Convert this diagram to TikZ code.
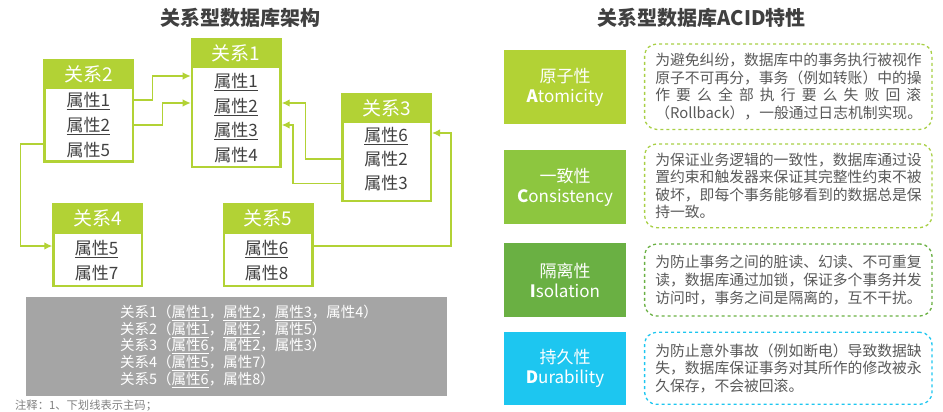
\documentclass[tikz,border=0pt]{standalone}
\usepackage{fontspec}
\setmainfont{Noto Sans CJK SC}
\usepackage{xcolor}
\usetikzlibrary{arrows.meta,positioning,calc}
\definecolor{relgreen}{HTML}{B2D235}
\definecolor{consgreen}{HTML}{8DC63F}
\definecolor{isolgreen}{HTML}{6AB043}
\definecolor{durablue}{HTML}{1DC6F0}
\definecolor{dashgreen}{HTML}{A8CF45}
\definecolor{tblgray}{HTML}{A5A5A5}
\definecolor{txtgray}{HTML}{595959}
\definecolor{darktxt}{HTML}{404040}
\tikzset{
  relbox/.style={draw=relgreen,line width=2.5pt,fill=white,minimum width=88.5pt,inner sep=0pt},
  relhead/.style={fill=relgreen,text=white,minimum width=91pt,minimum height=30pt,inner sep=0pt,anchor=north,font=\fontsize{19}{19}\selectfont},
  attr/.style={text=darktxt,inner sep=0pt,text height=15pt,text depth=2pt,font=\fontsize{17}{17}\selectfont},
  link/.style={draw=relgreen,line width=1.3pt,-{Latex[length=8pt,width=7.5pt]}},
  acidbox/.style={text=white,minimum width=122pt,minimum height=74pt,inner sep=0pt,align=center,font=\fontsize{17}{20}\selectfont},
  descbox/.style={draw,dashed,line width=1.3pt,rounded corners=12pt,text width=266pt,inner xsep=10.7pt,align=left,text=txtgray,font=\fontsize{14.8}{17.6}\selectfont},
  ttl/.style={text=darktxt,font=\fontsize{20}{20}\selectfont\bfseries}
}
\begin{document}
\begin{tikzpicture}[x=1pt,y=-1pt]
  \useasboundingbox (0,0) rectangle (943,412);
  % left: relations
  \node[ttl] (archtitle) at (240,18) {关系型数据库架构};
  \node[relbox,minimum height=127.5pt] (r1) at (236.2,103) {};
  \node[relhead] (r1h) at (r1.north) {关系1};
  \node[attr] (r1a1) at (236,81) {\underline{属性1}};
  \node[attr] (r1a2) at (236,106) {\underline{属性2}};
  \node[attr] (r1a3) at (236,130) {\underline{属性3}};
  \node[attr] (r1a4) at (236,155) {属性4};
  \node[relbox,minimum height=101.5pt] (r2) at (88.5,110.7) {};
  \node[relhead] (r2h) at (r2.north) {关系2};
  \node[attr] (r2a1) at (88.3,100) {\underline{属性1}};
  \node[attr] (r2a2) at (88.3,125) {\underline{属性2}};
  \node[attr] (r2a3) at (88.3,150) {属性5};
  \node[relbox,minimum height=107pt] (r3) at (386.5,147.5) {};
  \node[relhead] (r3h) at (r3.north) {关系3};
  \node[attr] (r3a1) at (386,135) {\underline{属性6}};
  \node[attr] (r3a2) at (386,159) {属性2};
  \node[attr] (r3a3) at (386,183.3) {属性3};
  \node[relbox,minimum height=81.5pt] (r4) at (97.8,245.3) {};
  \node[relhead] (r4h) at (r4.north) {关系4};
  \node[attr] (r4a1) at (96.7,248) {\underline{属性5}};
  \node[attr] (r4a2) at (96.7,273) {属性7};
  \node[relbox,minimum height=81.5pt] (r5) at (268,245.3) {};
  \node[relhead] (r5h) at (r5.north) {关系5};
  \node[attr] (r5a1) at (266.7,248) {\underline{属性6}};
  \node[attr] (r5a2) at (266.7,273) {属性8};
  \draw[link] (r2a1 -| r2.east) -- ++(18.4,0) |- ([yshift=5pt]r1a1 -| r1.west);
  \draw[link] (r2a2 -| r2.east) -- ++(28.4,0) |- ([yshift=3pt]r1a2 -| r1.west);
  \draw[link] (r3a2 -| r3.west) -- ++(-35.7,0) |- ([yshift=3pt]r1a2 -| r1.east);
  \draw[link] (r3a3 -| r3.west) -- ++(-48,0) |- ([yshift=5pt]r1a3 -| r1.east);
  \draw[link] ([yshift=6pt]r2a3 -| r2.west) -- ++(-22.7,0) |- ([yshift=2pt]r4a1 -| r4.west);
  \draw[link] ([yshift=2pt]r5a1 -| r5.east) -- ++(137.4,0) |- ([yshift=2pt]r3a1 -| r3.east);
  \node[fill=tblgray,minimum width=420.7pt,minimum height=99.3pt] (tbl) at (236.3,346.3) {};
  \node[anchor=west,text=white,align=left,inner sep=0pt,font=\fontsize{14.5}{16.7}\selectfont] (tbltxt) at (120,346.3)
    {关系1（\underline{属性1}，\underline{属性2}，\underline{属性3}，属性4）\\
     关系2（\underline{属性1}，\underline{属性2}，属性5）\\
     关系3（\underline{属性6}，属性2，属性3）\\
     关系4（\underline{属性5}，属性7）\\
     关系5（\underline{属性6}，属性8）};
  \node[anchor=west,text=gray,inner sep=0pt,font=\fontsize{11.3}{11.3}\selectfont] (note) at (15,406) {注释：1、下划线表示主码；};
  % right: ACID
  \node[ttl] (acidtitle) at (701.7,18) {关系型数据库ACID特性};
  \node[acidbox,fill=relgreen] (atom) at (565,87) {原子性\\{\bfseries A}tomicity};
  \node[acidbox,fill=consgreen] (cons) at (565,187) {一致性\\{\bfseries C}onsistency};
  \node[acidbox,fill=isolgreen,minimum height=73.4pt] (isol) at (565,280) {隔离性\\{\bfseries I}solation};
  \node[acidbox,fill=durablue,minimum height=73.4pt] (dura) at (565,368.3) {持久性\\{\bfseries D}urability};
  \node[descbox,draw=dashgreen,minimum height=85.4pt] (atomtxt) at (788.3,86.7)
    {为避免纠纷，数据库中的事务执行被视作\\
     原子不可再分，事务（例如转账）中的操\\
     \makebox[266pt][s]{作\hfill 要\hfill 么\hfill 全\hfill 部\hfill 执\hfill 行\hfill 要\hfill 么\hfill 失\hfill 败\hfill 回\hfill 滚}\\
     （Rollback），一般通过日志机制实现。};
  \node[descbox,draw=dashgreen,minimum height=83.7pt] (constxt) at (788.3,185.8)
    {为保证业务逻辑的一致性，数据库通过设\\
     置约束和触发器来保证其完整性约束不被\\
     破坏，即每个事务能够看到的数据总是保\\
     持一致。};
  \node[descbox,draw=isolgreen,minimum height=72pt] (isoltxt) at (788.3,280)
    {为防止事务之间的脏读、幻读、不可重复\\
     读，数据库通过加锁，保证多个事务并发\\
     访问时，事务之间是隔离的，互不干扰。};
  \node[descbox,draw=durablue,minimum height=72pt] (duratxt) at (788.3,368.3)
    {为防止意外事故（例如断电）导致数据缺\\
     失，数据库保证事务对其所作的修改被永\\
     久保存，不会被回滚。};
\end{tikzpicture}
\end{document}
